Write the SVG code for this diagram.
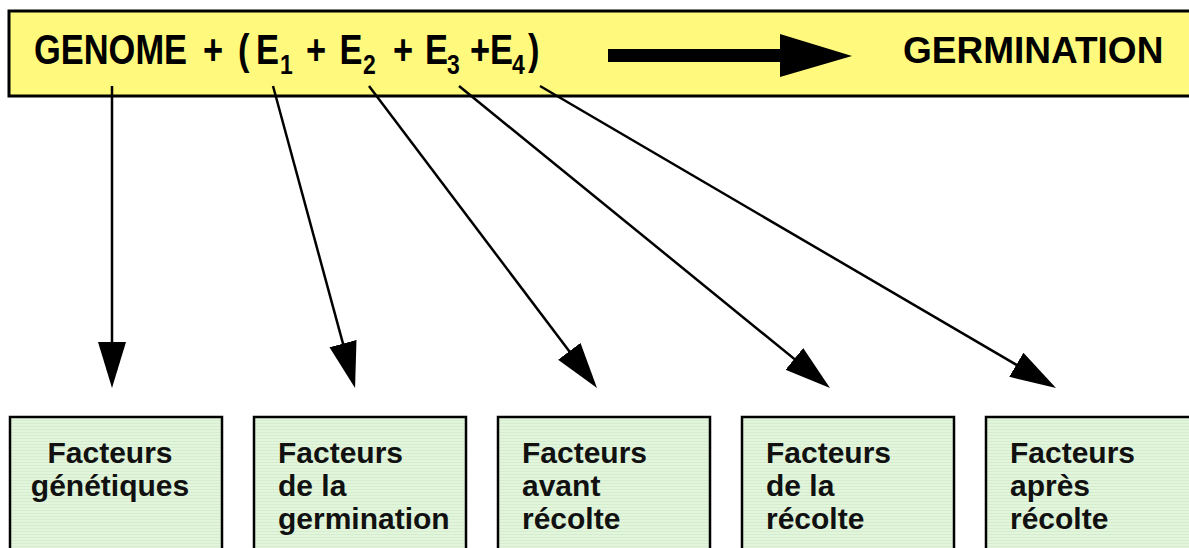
<svg xmlns="http://www.w3.org/2000/svg" width="1189" height="548" viewBox="0 0 1189 548">
<style>
.banner{fill:#FFFA7D;stroke:#000;stroke-width:3}
.box{fill:url(#stripes);stroke:#000;stroke-width:2.5}
.t{font-family:"Liberation Sans",Arial,sans-serif;font-weight:bold;fill:#000}
.bt{font-family:"Liberation Sans",Arial,sans-serif;font-weight:bold;font-size:30px;fill:#111}
.conn{stroke:#000;stroke-width:2.5;fill:none;marker-end:url(#ah)}
</style>
<defs>
<pattern id="stripes" patternUnits="userSpaceOnUse" width="8" height="3">
<rect width="8" height="3" fill="#E3F6DD"/>
<rect width="8" height="1" fill="#D4EDCD"/>
</pattern>
<marker id="ah" markerUnits="userSpaceOnUse" markerWidth="48" markerHeight="30" refX="26" refY="14" orient="auto">
<path d="M0,0 L46,14 L0,28 Z" fill="#000"/>
</marker>
</defs>
<g id="banner">
<rect class="banner" x="9" y="11" width="1195" height="85"/>
<text class="t" font-size="42" transform="scale(0.82 1)" y="64"><tspan x="41.5">GENOME</tspan><tspan x="247.6">+</tspan><tspan x="290.2">(</tspan><tspan x="312.2">E</tspan><tspan x="341.5" y="74" font-size="28">1</tspan><tspan x="373.2" y="64">+</tspan><tspan x="414">E</tspan><tspan x="442.7" y="74" font-size="28">2</tspan><tspan x="479.3" y="64">+</tspan><tspan x="518.3">E</tspan><tspan x="545.1" y="74" font-size="28">3</tspan><tspan x="573.2" y="64">+</tspan><tspan x="597.6">E</tspan><tspan x="624.4" y="74" font-size="28">4</tspan><tspan x="643.9" y="64">)</tspan></text>
<polygon points="608,49 780,49 780,34 852,56 780,77 780,62 608,62" fill="#000"/>
<text class="t" font-size="37" x="903" y="63">GERMINATION</text>
</g>
<g id="connectors">
<line class="conn" x1="112" y1="86" x2="112" y2="368"/>
<line class="conn" x1="273" y1="86" x2="349.8" y2="368.7"/>
<line class="conn" x1="369" y1="86" x2="584.95" y2="372.04"/>
<line class="conn" x1="459" y1="86" x2="814.49" y2="375.37"/>
<line class="conn" x1="540" y1="86" x2="1038.74" y2="377.9"/>
</g>
<g id="box1">
<rect class="box" x="10" y="417" width="212" height="150"/>
<text class="bt" text-anchor="middle"><tspan x="110" y="463">Facteurs</tspan><tspan x="110" y="496">génétiques</tspan></text>
</g>
<g id="box2">
<rect class="box" x="254" y="417" width="212" height="150"/>
<text class="bt"><tspan x="278" y="463">Facteurs</tspan><tspan x="278" y="496">de la</tspan><tspan x="278" y="529">germination</tspan></text>
</g>
<g id="box3">
<rect class="box" x="498" y="417" width="212" height="150"/>
<text class="bt"><tspan x="522" y="463">Facteurs</tspan><tspan x="522" y="496">avant</tspan><tspan x="522" y="529">récolte</tspan></text>
</g>
<g id="box4">
<rect class="box" x="742" y="417" width="212" height="150"/>
<text class="bt"><tspan x="766" y="463">Facteurs</tspan><tspan x="766" y="496">de la</tspan><tspan x="766" y="529">récolte</tspan></text>
</g>
<g id="box5">
<rect class="box" x="986" y="417" width="212" height="150"/>
<text class="bt"><tspan x="1010" y="463">Facteurs</tspan><tspan x="1010" y="496">après</tspan><tspan x="1010" y="529">récolte</tspan></text>
</g>
</svg>
